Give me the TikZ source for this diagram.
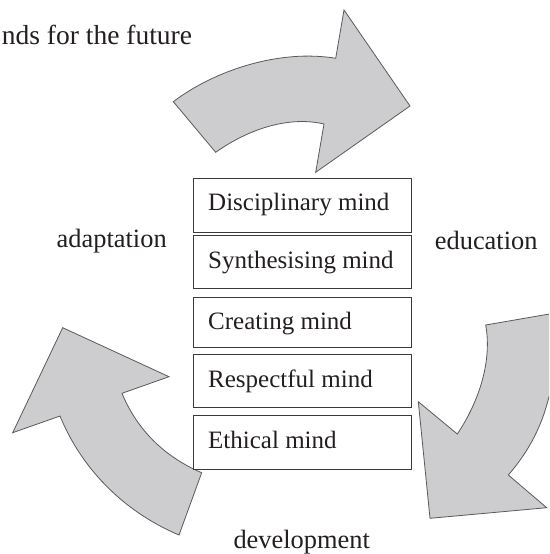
\documentclass[tikz,border=0pt]{standalone}
\usepackage{fontspec}
\setmainfont{Liberation Serif}
\definecolor{inkc}{HTML}{231F20}
\definecolor{arrowfill}{HTML}{CDCDCF}
\definecolor{arrowline}{HTML}{5A5A5A}
\definecolor{boxline}{HTML}{3A3A3A}
\tikzset{
  bigarrow/.style={fill=arrowfill, draw=arrowline, line width=0.8pt, line join=miter},
  mindbox/.style={draw=boxline, fill=white, line width=1pt, inner sep=0pt,
    minimum width=218.2pt, anchor=north west},
  mindtext/.style={text=inkc, inner sep=0pt, anchor=base west,
    font=\fontsize{25}{30}\selectfont},
  cyclelabel/.style={text=inkc, inner sep=0pt, anchor=base, font=\fontsize{26.4}{30}\selectfont}
}
\begin{document}
\begin{tikzpicture}[x=1pt,y=-1pt]
\useasboundingbox (0,0) rectangle (549,554);
\clip (0,0) rectangle (549,554);
\fill[white] (0,0) rectangle (549,554);
% top arrow
\draw[bigarrow] (173.3,101.7) -- (215.7,152.3)
  .. controls (250,128) and (290,116) .. (324,124)
  -- (315.7,172.3) -- (410,106) -- (344,10) -- (335.7,58.3)
  .. controls (280,49) and (215,70) .. (173.3,101.7) -- cycle;
% left arrow
\draw[bigarrow] (62.7,327.7) -- (169,376.7) -- (122,393.3)
  .. controls (135,425) and (160,455) .. (201.7,472.7)
  -- (179,535)
  .. controls (120,510) and (80,465) .. (60,416)
  -- (12.7,432.7) -- cycle;
% right arrow
\draw[bigarrow] (485.7,325) -- (590,307) -- (590,360) -- (549,396.7)
  .. controls (542,425) and (530,450) .. (508.3,475)
  -- (546.7,507.7) -- (430,518.3) -- (418.3,401.7) -- (457.3,434)
  .. controls (480,400) and (492,360) .. (485.7,325) -- cycle;
% boxes
\node[mindbox, minimum height=53.4pt] (b1) at (192.5,178.3) {};
\node[mindbox, minimum height=52.5pt] (b2) at (192.5,235) {};
\node[mindbox, minimum height=50.8pt] (b3) at (192.5,296.5) {};
\node[mindbox, minimum height=53.3pt] (b4) at (192.5,354) {};
\node[mindbox, minimum height=54pt] (b5) at (192.5,415) {};
\node[mindtext] (t1) at ([shift={(15.5,32.4)}]b1.north west) {Disciplinary mind};
\node[mindtext] (t2) at ([shift={(15.5,33.3)}]b2.north west) {Synthesising mind};
\node[mindtext] (t3) at ([shift={(15.5,32.5)}]b3.north west) {Creating mind};
\node[mindtext] (t4) at ([shift={(15.5,33)}]b4.north west) {Respectful mind};
\node[mindtext] (t5) at ([shift={(15.5,33.5)}]b5.north west) {Ethical mind};
% labels
\node[text=inkc, inner sep=0pt, anchor=base west, font=\fontsize{27.5}{32}\selectfont] (title) at (1.7,44.3) {nds for the future};
\node[cyclelabel] (adapt) at (111.7,247.3) {adaptation};
\node[cyclelabel] (educ) at (486.2,249.3) {education};
\node[cyclelabel] (devel) at (301.7,548.3) {development};
\end{tikzpicture}
\end{document}
